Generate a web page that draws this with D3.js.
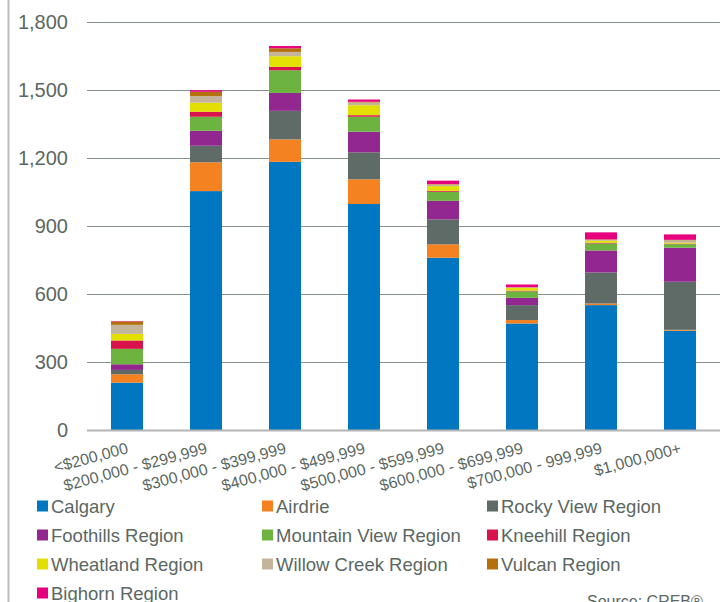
<!DOCTYPE html>
<html lang="en">
<head>
<meta charset="utf-8">
<title>Sales by price range</title>
<style>
  body { margin: 0; background: #fff; }
  svg text { font-family: "Liberation Sans", Arial, sans-serif; fill: #5b6762; }
</style>
</head>
<body>
<svg id="chart"></svg>
<script src="https://cdnjs.cloudflare.com/ajax/libs/d3/7.8.5/d3.min.js"></script>
<script>
const categories = ['<$200,000', '$200,000 - $299,999', '$300,000 - $399,999', '$400,000 - $499,999',
  '$500,000 - $599,999', '$600,000 - $699,999', '$700,000 - 999,999', '$1,000,000+'];
const regions = ['Calgary', 'Airdrie', 'Rocky View Region', 'Foothills Region', 'Mountain View Region',
  'Kneehill Region', 'Wheatland Region', 'Willow Creek Region', 'Vulcan Region', 'Bighorn Region'];
const colors = ['#0077c0', '#f58220', '#5f6b66', '#92278f', '#6db33f',
  '#d7144b', '#e3df00', '#c4b59a', '#b5700e', '#e6007e'];

// one array per region, in category order
const calgary      = [209, 1054, 1183, 997, 760, 470, 551, 438];
const airdrie      = [37, 127, 99, 109, 59, 15, 7, 4];
const rockyView    = [19, 73, 126, 119, 110, 66, 137, 212];
const foothills    = [25, 66, 79, 91, 82, 32, 97, 150];
const mountainView = [68, 62, 100, 66, 40, 29, 31, 16];
const kneehill     = [37, 22, 15, 7, 4, 3, 3, 2];
const wheatland    = [29, 40, 47, 44, 21, 12, 9, 4];
const willowCreek  = [40, 29, 19, 12, 7, 2, 4, 11];
const vulcan       = [15, 19, 16, 3, 2, 1, 2, 2];
const bighorn      = [2, 7, 10, 10, 15, 12, 31, 24];
const yTicks = [0, 300, 600, 900, 1200, 1500, 1800];

const series = [calgary, airdrie, rockyView, foothills, mountainView, kneehill, wheatland, willowCreek, vulcan, bighorn];

const [width, height] = [723, 602];
const svg = d3.select('#chart').attr('width', width).attr('height', height);

const rows = categories.map(function(c, i) {
  let r = { cat: c };
  regions.forEach(function(name, k) { r[name] = series[k][i]; });
  return r;
});

const x = d3.scaleBand().domain(categories).range([87.5, 719.5]).paddingInner(0.595).paddingOuter(0.2975);
const y = d3.scaleLinear().domain([0, 1800]).range([430, 22]);

// left border line
svg.append('line')
  .attr('x1', 8.5).attr('x2', 8.5).attr('y1', 0).attr('y2', height)
  .attr('stroke', '#bdbdbd').attr('stroke-width', 2);

// gridlines
svg.append('g')
  .selectAll('line')
  .data(yTicks.filter(d => d > 0))
  .enter()
  .append('line')
  .attr('x1', 87).attr('x2', 720)
  .attr('y1', d => Math.round(y(d)) + 0.5).attr('y2', d => Math.round(y(d)) + 0.5)
  .attr('stroke', '#86908b').attr('stroke-width', 1);

// y tick labels
svg.append('g')
  .selectAll('text')
  .data(yTicks)
  .enter()
  .append('text')
  .attr('x', 68)
  .attr('y', d => y(d) + 7)
  .attr('text-anchor', 'end')
  .style('font-size', '20px')
  .text(d => d3.format(',')(d));

// stacked bars
const stacked = d3.stack().keys(regions)(rows);
svg.append('g')
  .selectAll('g')
  .data(stacked)
  .enter()
  .append('g')
  .attr('fill', (d, i) => colors[i])
  .selectAll('rect')
  .data(d => d)
  .enter()
  .append('rect')
  .attr('x', d => x(d.data.cat))
  .attr('width', x.bandwidth())
  .attr('y', d => y(d[1]))
  .attr('height', d => y(d[0]) - y(d[1]));

// baseline
svg.append('line')
  .attr('x1', 87).attr('x2', 720).attr('y1', 430.5).attr('y2', 430.5)
  .attr('stroke', '#b4b4b4').attr('stroke-width', 2);

// x labels
svg.append('g')
  .selectAll('text')
  .data(categories)
  .enter()
  .append('text')
  .attr('transform', d => 'translate(' + (x(d) + x.bandwidth() / 2 + 2) + ',' + 453 + ') rotate(-15)')
  .attr('text-anchor', 'end')
  .style('font-size', '16px')
  .text(d => d);

// legend
const legend = svg.append('g')
  .selectAll('g')
  .data(regions)
  .enter()
  .append('g')
  .attr('transform', (d, i) => 'translate(' + (37 + (i % 3) * 225) + ',' + (506 + Math.floor(i / 3) * 29) + ')');
legend.append('rect')
  .attr('x', 0).attr('y', -5.5).attr('width', 11).attr('height', 11)
  .attr('fill', (d, i) => colors[i]);
legend.append('text')
  .attr('x', 14).attr('y', 6.5)
  .style('font-size', '18.5px')
  .text(d => d);

svg.append('text')
  .attr('x', 587).attr('y', 607)
  .style('font-size', '16px')
  .text('Source: CREB®');
</script>
</body>
</html>
